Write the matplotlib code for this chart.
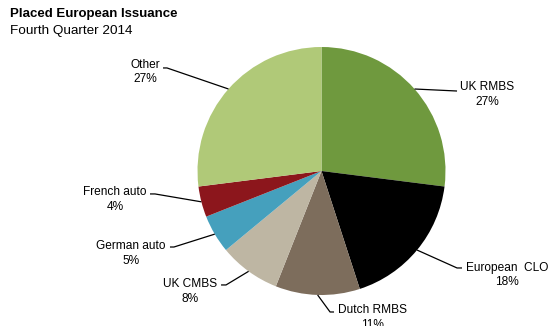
import numpy as np
import matplotlib.pyplot as plt

plt.rcParams['font.family'] = ['Liberation Sans', 'DejaVu Sans']

# data
segments = ['UK RMBS', 'European  CLO', 'Dutch RMBS', 'UK CMBS',
            'German auto', 'French auto', 'Other']
shares = [27, 18, 11, 8, 5, 4, 27]
colors = ['#6F993E', '#000000', '#7D6D5C', '#BEB6A3',
          '#45A0BD', '#8C161C', '#B0C978']

# label layout (in pie-radius units): text centre, elbow, tail end
text_pos = [(1.335, 0.617), (1.496, -0.839), (0.415, -1.181), (-1.060, -0.972),
            (-1.536, -0.665), (-1.665, -0.230), (-1.423, 0.798)]
elbows = [(1.093, 0.645), (1.093, -0.782), (0.069, -1.137), (-0.770, -0.919),
          (-1.190, -0.613), (-1.343, -0.185), (-1.246, 0.831)]
tails = [(1.093, 0.645), (1.133, -0.782), (0.101, -1.137), (-0.810, -0.919),
         (-1.222, -0.613), (-1.383, -0.185), (-1.278, 0.831)]

fig = plt.figure(figsize=(5.5, 3.26), dpi=100)
ax = fig.add_axes([197.5/550, 31/326, 248/550, 248/326])

wedges, _ = ax.pie(shares, colors=colors, startangle=90, counterclock=False,
                   radius=1, wedgeprops=dict(linewidth=0))
ax.set_xlim(-1, 1)
ax.set_ylim(-1, 1)

for w, name, val, tp, el, tl in zip(wedges, segments, shares, text_pos, elbows, tails):
    mid = np.deg2rad((w.theta1 + w.theta2) / 2)
    x0, y0 = np.cos(mid), np.sin(mid)
    ax.plot([x0, el[0], tl[0]], [y0, el[1], tl[1]], color='black', lw=0.9,
            clip_on=False, solid_capstyle='butt')
    ax.text(tp[0], tp[1], f'{name}\n{val}%', ha='center', va='center',
            fontsize=8.6, linespacing=1.3, clip_on=False)

fig.text(10/550, 1 - 14/326, 'Placed European Issuance', fontsize=9.5,
         fontweight='bold', va='center', ha='left')
fig.text(10/550, 1 - 31/326, 'Fourth Quarter 2014', fontsize=9.7,
         va='center', ha='left')

fig.savefig('out.png', dpi=100)
